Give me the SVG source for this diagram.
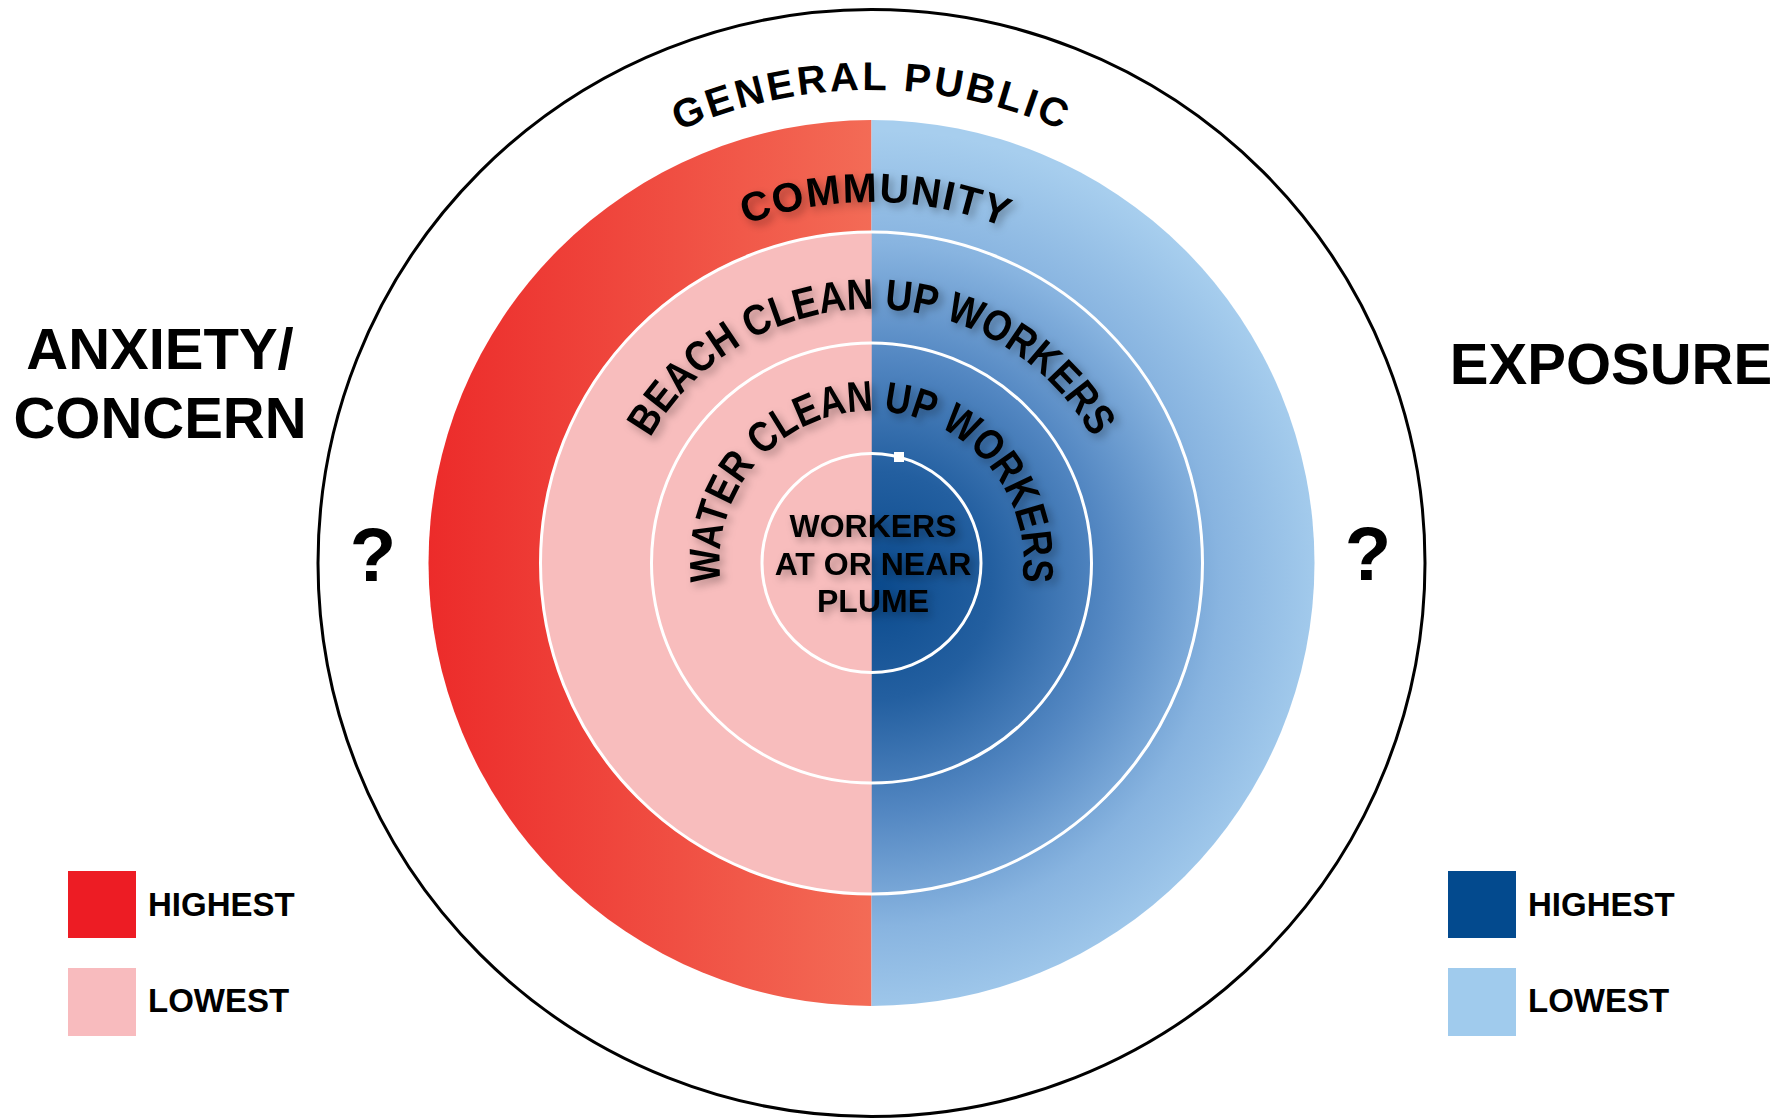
<svg xmlns="http://www.w3.org/2000/svg" width="1784" height="1119" viewBox="0 0 1784 1119">
<style>
text{font-family:"Liberation Sans",Arial,sans-serif;font-weight:bold;fill:#000}
.ring{fill:none;stroke:#fff;stroke-width:3}
.title{font-size:58px}
.q{font-size:76px;text-anchor:middle}
.leg{font-size:33px}
.arc{font-size:43px}
.inner{font-size:32px;text-anchor:middle}
</style>
<defs>
<linearGradient id="redG" gradientUnits="userSpaceOnUse" x1="428" y1="0" x2="871.5" y2="0">
<stop offset="0" stop-color="#EC2B2A"/>
<stop offset="1" stop-color="#F36B56"/>
</linearGradient>
<radialGradient id="blueG" gradientUnits="userSpaceOnUse" cx="878" cy="585" r="455">
<stop offset="0" stop-color="#0A4A8D"/>
<stop offset="0.25" stop-color="#235FA0"/>
<stop offset="0.5" stop-color="#5387C2"/>
<stop offset="0.75" stop-color="#88B4E0"/>
<stop offset="1" stop-color="#A7CEEE"/>
</radialGradient>
<filter id="shadow" x="-20%" y="-20%" width="140%" height="140%">
<feDropShadow dx="4" dy="4" stdDeviation="4" flood-color="#000" flood-opacity="0.32"/>
</filter>
<path id="pGP" d="M 461.9 799.5 A 473 473 0 0 1 871.5 90 A 473 473 0 0 1 1281.1 799.5"/>
<path id="pCOM" d="M 558.9 743.5 A 361 361 0 0 1 871.5 202 A 361 361 0 0 1 1184.1 743.5"/>
<path id="pBEACH" d="M 651.5 690 A 254 254 0 0 1 871.5 309 A 254 254 0 0 1 1091.5 690"/>
<path id="pWATER" d="M 739.9 639 A 152 152 0 0 1 871.5 411 A 152 152 0 0 1 1003.1 639"/>
</defs>
<rect width="1784" height="1119" fill="#fff"/>

<g id="general-public">
<circle cx="871.5" cy="563" r="553.5" fill="#fff" stroke="#000" stroke-width="3"/>
<text font-size="40" letter-spacing="3"><textPath href="#pGP" startOffset="50%" text-anchor="middle">GENERAL PUBLIC</textPath></text>
</g>

<g id="community">
<path d="M 871.5 120 A 443 443 0 0 0 871.5 1006 Z" fill="url(#redG)"/>
<path d="M 871.5 120 A 443 443 0 0 1 871.5 1006 Z" fill="url(#blueG)"/>
<text font-size="41" letter-spacing="1.5" filter="url(#shadow)"><textPath href="#pCOM" startOffset="50.3%" text-anchor="middle">COMMUNITY</textPath></text>
</g>

<g id="beach-clean-up-workers">
<path d="M 871.5 232 A 331 331 0 0 0 871.5 894 Z" fill="#F8BDBD"/>
<circle class="ring" cx="871.5" cy="563" r="331"/>
<text class="arc" filter="url(#shadow)"><textPath href="#pBEACH" startOffset="50%" text-anchor="middle" textLength="536" lengthAdjust="spacingAndGlyphs">BEACH CLEAN UP WORKERS</textPath></text>
</g>

<g id="water-clean-up-workers">
<circle class="ring" cx="871.5" cy="563" r="220"/>
<text class="arc" filter="url(#shadow)"><textPath href="#pWATER" startOffset="50%" text-anchor="middle" textLength="515" lengthAdjust="spacingAndGlyphs">WATER CLEAN UP WORKERS</textPath></text>
</g>

<g id="workers-at-or-near-plume">
<circle class="ring" cx="871.5" cy="563" r="109.5"/>
<rect x="894" y="452" width="10" height="10" fill="#fff"/>
<g filter="url(#shadow)">
<text class="inner" x="873" y="537">WORKERS</text>
<text class="inner" x="873" y="575">AT OR NEAR</text>
<text class="inner" x="873" y="612">PLUME</text>
</g>
</g>

<g id="anxiety-label">
<text class="title" x="160" y="369" text-anchor="middle">ANXIETY/</text>
<text class="title" x="160" y="438" text-anchor="middle">CONCERN</text>
<text class="q" x="373" y="581">?</text>
</g>

<g id="exposure-label">
<text class="title" x="1611" y="384" text-anchor="middle">EXPOSURE</text>
<text class="q" x="1368" y="580">?</text>
</g>

<g id="legend-anxiety">
<rect x="68" y="871" width="68" height="67" fill="#ED1C24"/>
<rect x="68" y="968" width="68" height="68" fill="#F8BBBE"/>
<text class="leg" x="148" y="916">HIGHEST</text>
<text class="leg" x="148" y="1012">LOWEST</text>
</g>

<g id="legend-exposure">
<rect x="1448" y="871" width="68" height="67" fill="#034A8E"/>
<rect x="1448" y="968" width="68" height="68" fill="#A0CBED"/>
<text class="leg" x="1528" y="916">HIGHEST</text>
<text class="leg" x="1528" y="1012">LOWEST</text>
</g>
</svg>
